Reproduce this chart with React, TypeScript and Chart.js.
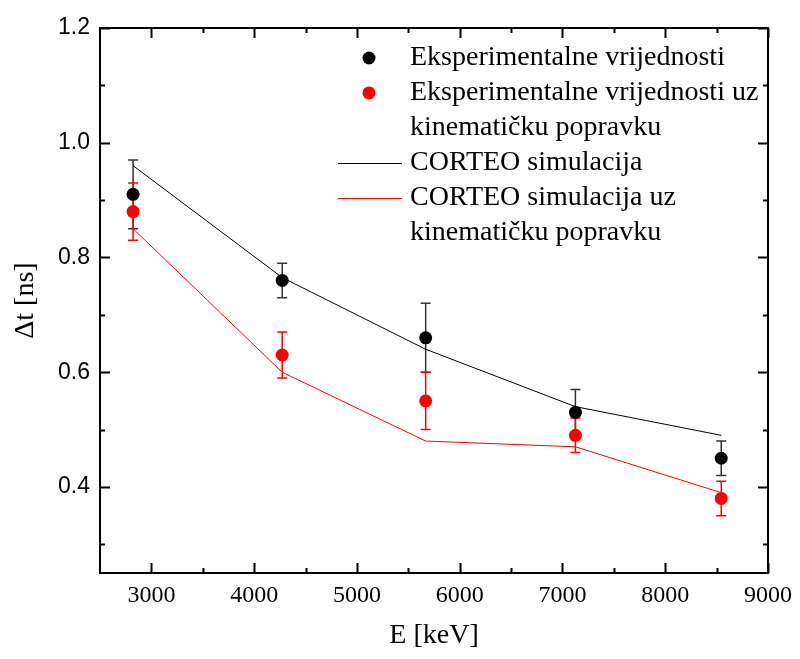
import React, { useEffect, useRef } from 'react';
import { Chart, registerables } from 'chart.js';

Chart.register(...registerables);

const energies = [2822, 4273, 5669, 7126, 8545];
const expValues = [0.91, 0.76, 0.66, 0.53, 0.45];
const expErrors = [0.06, 0.03, 0.06, 0.04, 0.03];
const expCorrValues = [0.88, 0.63, 0.55, 0.49, 0.38];
const expCorrErrors = [0.05, 0.04, 0.05, 0.03, 0.03];
const simValues = [0.96, 0.765, 0.64, 0.54, 0.49];
const simCorrValues = [0.85, 0.6, 0.48, 0.47, 0.39];

const xMajorTicks = [3000, 4000, 5000, 6000, 7000, 8000, 9000];
const xMinorTicks = [3500, 4500, 5500, 6500, 7500, 8500];
const yMajorTicks = [0.4, 0.6, 0.8, 1.0, 1.2];
const yMinorTicks = [0.3, 0.5, 0.7, 0.9, 1.1];

const legendRows = [
  { kind: 'dot', color: '#000000', lines: ['Eksperimentalne vrijednosti'] },
  { kind: 'dot', color: '#ff0000', lines: ['Eksperimentalne vrijednosti uz', 'kinematičku popravku'] },
  { kind: 'line', color: '#000000', lines: ['CORTEO simulacija'] },
  { kind: 'line', color: '#ff0000', lines: ['CORTEO simulacija uz', 'kinematičku popravku'] },
];

const SERIF = '"Liberation Serif", "Times New Roman", serif';
const SANS = '"Liberation Sans", Arial, sans-serif';

const pts = (ys: number[]) => energies.map((x, i) => ({ x, y: ys[i] }));

const errorBarPlugin = {
  id: 'errorBars',
  beforeDatasetsDraw(chart: any) {
    const { ctx, scales } = chart;
    const xs = scales.x;
    const ys = scales.y;
    const sets = [
      { v: expValues, e: expErrors, c: '#333333' },
      { v: expCorrValues, e: expCorrErrors, c: '#ff0000' },
    ];
    ctx.save();
    ctx.lineWidth = 1.5;
    sets.forEach((s) => {
      ctx.strokeStyle = s.c;
      s.v.forEach((v, i) => {
        const px = xs.getPixelForValue(energies[i]);
        const top = ys.getPixelForValue(v + s.e[i]);
        const bot = ys.getPixelForValue(v - s.e[i]);
        ctx.beginPath();
        ctx.moveTo(px, top);
        ctx.lineTo(px, bot);
        ctx.moveTo(px - 5, top);
        ctx.lineTo(px + 5, top);
        ctx.moveTo(px - 5, bot);
        ctx.lineTo(px + 5, bot);
        ctx.stroke();
      });
    });
    ctx.restore();
  },
};

const framePlugin = {
  id: 'frame',
  afterDraw(chart: any) {
    const { ctx, chartArea: a, scales } = chart;
    const xs = scales.x;
    const ys = scales.y;
    ctx.save();
    ctx.strokeStyle = '#000';
    ctx.lineWidth = 2;
    ctx.strokeRect(a.left, a.top, a.right - a.left, a.bottom - a.top);
    ctx.beginPath();
    const xt = (vals: number[], len: number) =>
      vals.forEach((v) => {
        const p = Math.round(xs.getPixelForValue(v)) + 0.5;
        ctx.moveTo(p, a.bottom);
        ctx.lineTo(p, a.bottom - len);
        ctx.moveTo(p, a.top);
        ctx.lineTo(p, a.top + len);
      });
    const yt = (vals: number[], len: number) =>
      vals.forEach((v) => {
        const p = Math.round(ys.getPixelForValue(v)) + 0.5;
        ctx.moveTo(a.left, p);
        ctx.lineTo(a.left + len, p);
        ctx.moveTo(a.right, p);
        ctx.lineTo(a.right - len, p);
      });
    xt(xMajorTicks, 10);
    xt(xMinorTicks, 5);
    yt(yMajorTicks, 10);
    yt(yMinorTicks, 5);
    ctx.stroke();
    ctx.restore();
  },
};

const legendPlugin = {
  id: 'customLegend',
  afterDraw(chart: any) {
    const { ctx } = chart;
    ctx.save();
    ctx.font = `28px ${SERIF}`;
    ctx.textBaseline = 'middle';
    ctx.textAlign = 'left';
    ctx.fillStyle = '#000';
    let y = 58;
    const step = 34.9;
    legendRows.forEach((row) => {
      if (row.kind === 'dot') {
        ctx.fillStyle = row.color;
        ctx.beginPath();
        ctx.arc(369, y, 6.5, 0, Math.PI * 2);
        ctx.fill();
      } else {
        ctx.strokeStyle = row.color;
        ctx.lineWidth = 1;
        ctx.beginPath();
        ctx.moveTo(338, Math.round(y) + 0.5);
        ctx.lineTo(402, Math.round(y) + 0.5);
        ctx.stroke();
      }
      ctx.fillStyle = '#000';
      row.lines.forEach((t) => {
        ctx.fillText(t, 410, y);
        y += step;
      });
    });
    ctx.restore();
  },
};

export default function App() {
  const ref = useRef<HTMLCanvasElement>(null);
  useEffect(() => {
    document.body.style.margin = '0';
    const canvas = ref.current;
    if (!canvas) return;
    const chart = new Chart(canvas, {
      type: 'scatter',
      data: {
        datasets: [
          {
            label: 'CORTEO simulacija',
            type: 'line',
            data: pts(simValues),
            borderColor: '#000000',
            borderWidth: 1,
            pointRadius: 0,
            fill: false,
            tension: 0,
            order: 3,
          } as any,
          {
            label: 'CORTEO simulacija uz kinematičku popravku',
            type: 'line',
            data: pts(simCorrValues),
            borderColor: '#ff0000',
            borderWidth: 1,
            pointRadius: 0,
            fill: false,
            tension: 0,
            order: 2,
          } as any,
          {
            label: 'Eksperimentalne vrijednosti',
            data: pts(expValues),
            backgroundColor: '#000000',
            borderColor: '#000000',
            borderWidth: 0,
            pointRadius: 6.5,
            order: 1,
          },
          {
            label: 'Eksperimentalne vrijednosti uz kinematičku popravku',
            data: pts(expCorrValues),
            backgroundColor: '#ff0000',
            borderColor: '#ff0000',
            borderWidth: 0,
            pointRadius: 6.5,
            order: 0,
          },
        ],
      },
      options: {
        responsive: false,
        animation: false,
        devicePixelRatio: 1,
        layout: { padding: { top: 28, right: 29, left: 0, bottom: 0 } },
        plugins: {
          legend: { display: false },
          tooltip: { enabled: false },
        },
        scales: {
          x: {
            type: 'linear',
            min: 2500,
            max: 9000,
            grid: { display: false, drawTicks: false },
            border: { display: false },
            afterBuildTicks: (s: any) => {
              s.ticks = xMajorTicks.map((v) => ({ value: v }));
            },
            afterFit: (s: any) => {
              s.height = 86;
            },
            ticks: {
              color: '#000',
              padding: 8,
              maxRotation: 0,
              font: { family: SERIF, size: 24 },
              callback: (v: any) => String(v),
            },
            title: {
              display: true,
              text: 'E [keV]',
              color: '#000',
              font: { family: SERIF, size: 28 },
              padding: { top: 0, bottom: 7 },
            },
          },
          y: {
            type: 'linear',
            min: 0.25,
            max: 1.2,
            grid: { display: false, drawTicks: false },
            border: { display: false },
            afterBuildTicks: (s: any) => {
              s.ticks = yMajorTicks.map((v) => ({ value: v }));
            },
            afterFit: (s: any) => {
              s.width = 100;
            },
            ticks: {
              color: '#000',
              padding: 10,
              font: { family: SANS, size: 23 },
              callback: (v: any) => Number(v).toFixed(1),
            },
            title: {
              display: true,
              text: 'Δt [ns]',
              color: '#000',
              font: { family: SERIF, size: 28 },
              padding: { top: 9, bottom: 0 },
            },
          },
        },
      },
      plugins: [errorBarPlugin, framePlugin, legendPlugin],
    });
    return () => chart.destroy();
  }, []);
  return (
    <div style={{ width: 800, height: 659, background: '#fff' }}>
      <canvas ref={ref} width={800} height={659} />
    </div>
  );
}
